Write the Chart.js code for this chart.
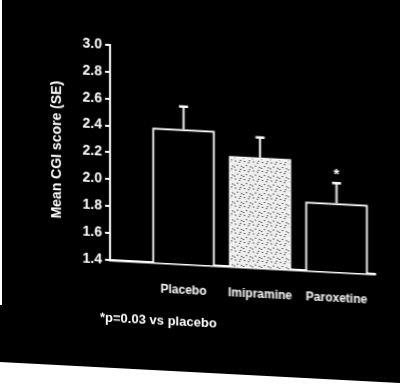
<!DOCTYPE html>
<html>
<head>
<meta charset="utf-8">
<script src="https://cdn.jsdelivr.net/npm/chart.js@4/dist/chart.umd.min.js"></script>
<style>
  html, body { margin: 0; padding: 0; background: #000; overflow: hidden; }
  body { width: 400px; height: 384px; position: relative; }
  .paper {
    position: absolute; left: 0; top: 362px; width: 420px; height: 80px;
    background: #fff; transform: skewY(3deg); transform-origin: 0 0;
  }
  .edge { position: absolute; left: 0; top: 0; width: 2px; height: 305px; background: #fff; }
  .wrap {
    position: absolute; left: 0; top: 0; width: 400px; height: 384px;
    transform: skewY(3deg); transform-origin: 110px 0;
  }
  .wrap canvas { display: block; }
  .note {
    position: absolute; left: 100px; top: 310px; color: #fff;
    font: bold 13px "Liberation Sans", Arial, sans-serif; white-space: nowrap;
  }
</style>
</head>
<body>
<div class="paper"></div>
<div class="edge"></div>
<div class="wrap">
  <canvas id="cgiChart" width="400" height="384"></canvas>
  <div class="note">*p=0.03 vs placebo</div>
</div>
<script>
// data
let groups = ["Placebo", "Imipramine", "Paroxetine"];
let meanCGI = [2.40, 2.22, 1.91];
let seUp = [0.17, 0.15, 0.15];
let starred = [false, false, true];
let yTicks = [1.4, 1.6, 1.8, 2.0, 2.2, 2.4, 2.6, 2.8, 3.0];

// stippled fill for the imipramine bar
function stipple() {
  let c = document.createElement("canvas");
  c.width = 9; c.height = 9;
  let g = c.getContext("2d");
  g.fillStyle = "#eee";
  g.fillRect(0, 0, 9, 9);
  g.fillStyle = "#000";
  [[1, 1], [5, 2], [3, 5], [7, 6], [0, 7], [6, 0]].forEach(p => g.fillRect(p[0], p[1], 1, 1));
  return g.createPattern(c, "repeat");
}

let errorBars = {
  id: "errorBars",
  afterDatasetsDraw(chart) {
    let ctx = chart.ctx;
    let y = chart.scales.y;
    let meta = chart.getDatasetMeta(0);
    ctx.save();
    ctx.strokeStyle = "#fff";
    ctx.fillStyle = "#fff";
    meta.data.forEach((bar, i) => {
      let top = y.getPixelForValue(meanCGI[i]);
      let cap = y.getPixelForValue(meanCGI[i] + seUp[i]);
      ctx.lineWidth = 2;
      ctx.beginPath();
      ctx.moveTo(bar.x, top);
      ctx.lineTo(bar.x, cap);
      ctx.stroke();
      ctx.lineWidth = 2.5;
      ctx.beginPath();
      ctx.moveTo(bar.x - 4.5, cap);
      ctx.lineTo(bar.x + 4.5, cap);
      ctx.stroke();
      if (starred[i]) {
        ctx.font = "bold 15px 'Liberation Sans', Arial, sans-serif";
        ctx.textAlign = "center";
        ctx.textBaseline = "top";
        ctx.fillText("*", bar.x, cap - 16);
      }
    });
    ctx.restore();
  },
};

let ctx = document.getElementById("cgiChart").getContext("2d");

let cgiChart = new Chart(ctx, {
  type: "bar",
  data: {
    datasets: [
      {
        data: meanCGI.map((v, i) => ({ x: i, y: v })),
        backgroundColor: ["#000", stipple(), "#000"],
        borderColor: "#fff",
        borderWidth: 2,
        borderSkipped: "bottom",
        barThickness: 62,
      },
    ],
  },
  options: {
    responsive: false,
    animation: false,
    events: [],
    layout: { padding: { left: 49, top: 45, right: 25, bottom: 84 } },
    plugins: { legend: { display: false }, tooltip: { enabled: false } },
    scales: {
      x: {
        type: "linear",
        offset: false,
        min: -0.961,
        max: 2.503,
        afterFit: (s) => { s.height = 40; },
        afterBuildTicks: (s) => { s.ticks = groups.map((g, i) => ({ value: i })); },
        grid: { display: false, drawTicks: false },
        border: { color: "#fff", width: 2.5 },
        ticks: {
          color: "#fff",
          padding: 19,
          autoSkip: false,
          maxRotation: 0,
          font: { family: "'Liberation Sans', Arial, sans-serif", size: 12, weight: "bold" },
          callback: (v) => groups[v],
        },
      },
      y: {
        min: 1.4,
        max: 3.0,
        afterFit: (s) => { s.width = 61; },
        afterBuildTicks: (s) => { s.ticks = yTicks.map((v) => ({ value: v })); },
        border: { color: "#fff", width: 2 },
        grid: { drawOnChartArea: false, drawTicks: true, tickLength: 5, color: "#fff", lineWidth: 2 },
        ticks: {
          color: "#fff",
          padding: 3,
          font: { family: "'Liberation Sans', Arial, sans-serif", size: 14, weight: "bold" },
          callback: (v) => v.toFixed(1),
        },
        title: {
          display: true,
          text: "Mean CGI score (SE)",
          color: "#fff",
          padding: { top: 0, bottom: 0 },
          font: { family: "'Liberation Sans', Arial, sans-serif", size: 14, weight: "bold" },
        },
      },
    },
  },
  plugins: [errorBars],
});
</script>
</body>
</html>
